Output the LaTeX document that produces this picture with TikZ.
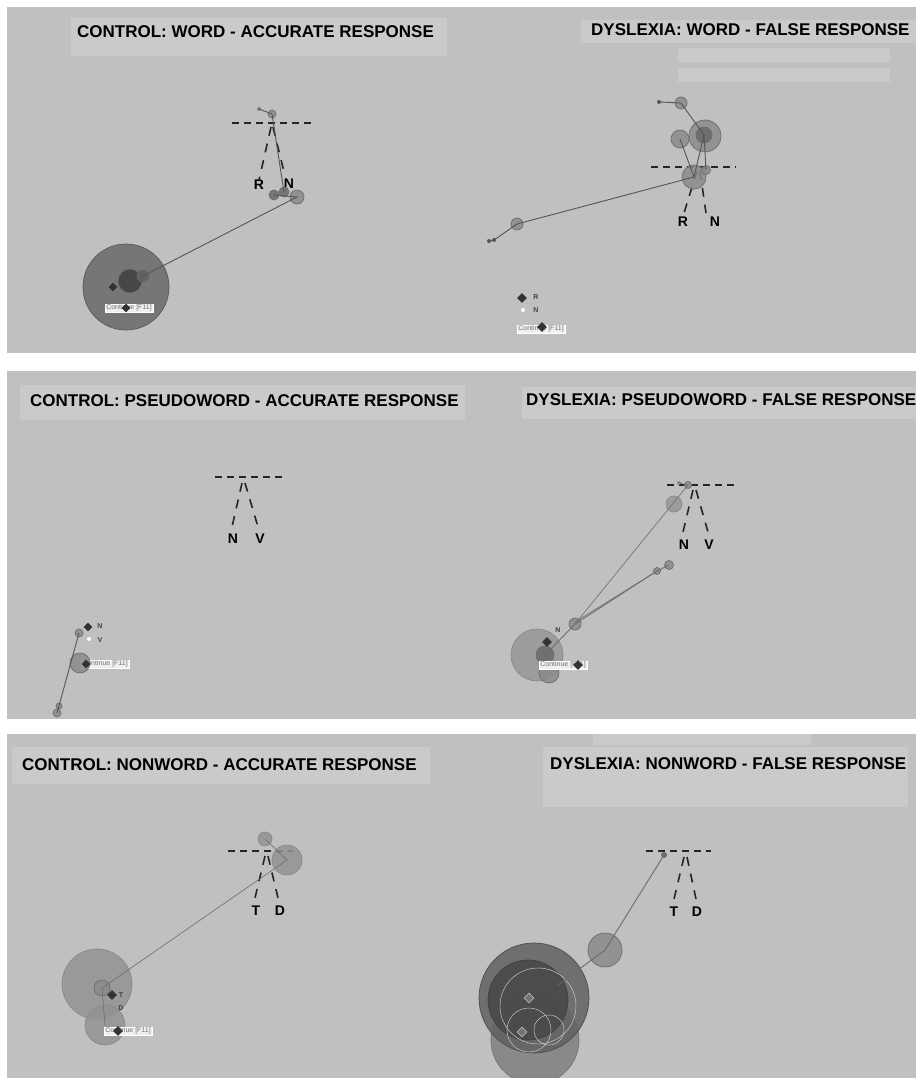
\documentclass[tikz,border=0pt]{standalone}
\usepackage{fontspec}
\setmainfont{Liberation Sans}
\usetikzlibrary{shapes.geometric}
\definecolor{panel}{HTML}{C0C0C0}
\definecolor{titlebox}{HTML}{CACACA}
\definecolor{fixgray}{HTML}{8A8A8A}
\definecolor{fixedge}{HTML}{6C6C6C}
\definecolor{fixdark}{HTML}{6A6A6A}
\definecolor{pathgray}{HTML}{555555}
\tikzset{
  fix/.style={circle, draw=fixedge, fill=fixgray, fill opacity=0.85, line width=0.7pt, inner sep=0pt, minimum size=#1},
  gazedot/.style={circle, fill=pathgray, inner sep=0pt, minimum size=4pt},
  diam/.style={diamond, fill=black!80, inner sep=0pt, minimum size=#1},
  cue/.style={line width=2pt, black!85, dash pattern=on 7pt off 5pt},
  leg/.style={line width=1.6pt, black!85, dash pattern=on 9pt off 8pt},
  paneltitle/.style={font=\fontsize{17}{17}\selectfont\bfseries, inner sep=0pt, anchor=west},
  letter/.style={font=\fontsize{14}{14}\selectfont\bfseries, inner sep=0pt},
  smalltag/.style={font=\fontsize{7}{7}\selectfont\bfseries, text=black!75, inner sep=0pt},
  btn/.style={font=\fontsize{7}{7}\selectfont, text=black!55, fill=white!75!panel, draw=white, inner sep=1pt},
  saccade/.style={draw=pathgray, line width=0.9pt}
}
\begin{document}
\begin{tikzpicture}[x=1pt,y=-1pt]
\useasboundingbox (0,0) rectangle (916,1078);
\fill[white] (0,0) rectangle (916,1078);
\fill[panel] (7,7) rectangle (916,353);
\fill[panel] (7,371) rectangle (916,719);
\fill[panel] (7,734) rectangle (916,1078);
\fill[titlebox] (71,18) rectangle (447,56);
\fill[titlebox] (581,20) rectangle (916,43);
\fill[titlebox] (678,48) rectangle (890,62);
\fill[titlebox] (678,68) rectangle (890,82);
\fill[titlebox] (20,385) rectangle (465,420);
\fill[titlebox] (522,387) rectangle (916,419);
\fill[titlebox] (12,747) rectangle (430,784);
\fill[titlebox] (593,734) rectangle (811,745);
\fill[titlebox] (543,747) rectangle (908,807);
\node[paneltitle] (t1) at (77,32) {CONTROL: WORD - ACCURATE RESPONSE};
\node[paneltitle] (t2) at (591,30) {DYSLEXIA: WORD - FALSE RESPONSE};
\node[paneltitle] (t3) at (30,401) {CONTROL: PSEUDOWORD - ACCURATE RESPONSE};
\node[paneltitle] (t4) at (526,400) {DYSLEXIA: PSEUDOWORD - FALSE RESPONSE};
\node[paneltitle] (t5) at (22,765) {CONTROL: NONWORD - ACCURATE RESPONSE};
\node[paneltitle] (t6) at (550,764) {DYSLEXIA: NONWORD - FALSE RESPONSE};

% control, word
\draw[cue] (232,123) -- (311,123);
\node[letter] (r1) at (259,185) {R};
\node[letter] (n1) at (289,184) {N};
\draw[leg] (271,127) -- (r1.north);
\draw[leg] (273,127) -- (285,176);
\node[fix=86pt, fill=fixdark, draw=black!65] (a5) at (126,287) {};
\node[btn] (k1) at (129,308) {Continue [F11]};
\node[diam=9pt] at (126,308) {};
\node[diam=9pt] at (113,287) {};
\node[fix=24pt, fill=black!72, fill opacity=1] (a6) at (130,281) {};
\node[fix=12pt, fill=black!62, fill opacity=1] (a7) at (143,276) {};
\node[gazedot, fill=black!50] (a0) at (259,109) {};
\node[fix=8pt] (a1) at (272,114) {};
\node[fix=10pt, fill=fixdark] (a2) at (274,195) {};
\node[fix=10pt, fill=fixdark] (a3) at (284,192) {};
\node[fix=14pt] (a4) at (297,197) {};
\draw[saccade] (a0.center) -- (a1.center) -- (a3.center);
\draw[saccade] (a2.center) -- (a4.center) -- (a7.center);

% dyslexia, word
\draw[cue] (651,167) -- (736,167);
\node[letter] (r2) at (683,222) {R};
\node[letter] (n2) at (715,222) {N};
\draw[leg] (697,171) -- (684,213);
\draw[leg] (700,171) -- (706,213);
\node[fix=12pt] (b1) at (681,103) {};
\node[gazedot] (b0) at (659,102) {};
\node[fix=32pt] (b2) at (705,136) {};
\node[fix=16pt, fill=fixdark] (b3) at (704,135) {};
\node[fix=18pt] (b4) at (680,139) {};
\node[fix=24pt] (b5) at (694,177) {};
\node[fix=9pt] (b6) at (706,170) {};
\node[fix=12pt] (b7) at (517,224) {};
\node[gazedot] (b8) at (494,240) {};
\node[gazedot] (b9) at (489,241) {};
\draw[saccade] (b0.center) -- (b1.center) -- (b3.center) -- (b5.center);
\draw[saccade] (b4.center) -- (b5.center);
\draw[saccade] (b3.center) -- (b6.center);
\draw[saccade] (b5.center) -- (b7.center) -- (b8.center) -- (b9.center);
\node[diam=10pt] at (522,298) {};
\node[smalltag] at (536,297) {R};
\node[circle, fill=white, inner sep=0pt, minimum size=4pt] at (523,310) {};
\node[smalltag] at (536,310) {N};
\node[btn] (k2) at (541,329) {Continue [F11]};
\node[diam=10pt] at (542,327) {};

% control, pseudoword
\draw[cue] (215,477) -- (286,477);
\node[letter] (n3) at (233,539) {N};
\node[letter] (v3) at (260,539) {V};
\draw[leg] (242,483) -- (232,527);
\draw[leg] (245,483) -- (258,527);
\node[btn] (k3) at (105,664) {Continue [F11]};
\node[fix=20pt] (c2) at (80,663) {};
\node[diam=9pt] at (86,664) {};
\node[diam=9pt] at (88,627) {};
\node[smalltag] at (100,626) {N};
\node[circle, fill=white, inner sep=0pt, minimum size=4pt] at (89,639) {};
\node[smalltag] at (100,640) {V};
\node[fix=8pt] (c1) at (79,633) {};
\node[fix=6pt] (c3) at (59,706) {};
\node[fix=8pt] (c4) at (57,713) {};
\draw[saccade] (c1.center) -- (c4.center);

% dyslexia, pseudoword
\draw[cue] (667,485) -- (734,485);
\node[letter] (n4) at (684,545) {N};
\node[letter] (v4) at (709,545) {V};
\draw[leg] (693,490) -- (683,532);
\draw[leg] (696,490) -- (708,532);
\node[fix=52pt, fill=fixgray!90!white, draw=fixgray] (d6) at (537,655) {};
\node[fix=18pt, fill=fixdark] (d7) at (545,655) {};
\node[fix=20pt] (d8) at (549,673) {};
\node[btn] (k4) at (563,665) {Continue [F11]};
\node[diam=10pt] at (578,665) {};
\node[diam=10pt] at (547,642) {};
\node[smalltag] at (558,630) {N};
\node[gazedot, fill=fixgray] (d0) at (679,483) {};
\node[fix=7pt] (d1) at (688,485) {};
\node[fix=16pt, fill=fixgray!90!white, draw=fixgray] (d2) at (674,504) {};
\node[fix=9pt] (d3) at (669,565) {};
\node[fix=7pt] (d4) at (657,571) {};
\node[fix=12pt] (d5) at (575,624) {};
\draw[saccade, draw=fixedge, line width=0.6pt] (d0.center) -- (d1.center) -- (d5.center);
\draw[saccade, draw=fixedge] (d3.center) -- (d4.center) -- (d5.center) -- (d7.center);
\draw[saccade, draw=fixedge, line width=0.6pt] (d4.center) -- ([yshift=2pt]d5.center);

% control, nonword
\draw[cue] (228,851) -- (293,851);
\node[letter] (t5l) at (256,911) {T};
\node[letter] (d5l) at (280,911) {D};
\draw[leg] (265,856) -- (255,898);
\draw[leg] (268,856) -- (278,898);
\node[fix=70pt, fill=fixgray!92!white, draw=fixgray] (e3) at (97,984) {};
\node[fix=40pt, fill=fixgray!92!white, draw=fixgray] (e5) at (105,1025) {};
\node[fix=16pt] (e4) at (102,988) {};
\node[btn] (k5) at (128,1031) {Continue [F11]};
\node[diam=10pt] at (118,1031) {};
\node[diam=10pt] at (112,995) {};
\node[smalltag] at (121,995) {T};
\node[smalltag] at (121,1008) {D};
\node[fix=14pt, fill=fixgray!92!white, draw=fixgray] (e1) at (265,839) {};
\node[fix=30pt, fill=fixgray!92!white, draw=fixgray] (e2) at (287,860) {};
\draw[saccade, draw=fixedge, line width=0.6pt] (e1.center) -- (e2.center) -- (e4.center) -- (e5.center);

% dyslexia, nonword
\draw[cue] (646,851) -- (711,851);
\node[letter] (t6l) at (674,912) {T};
\node[letter] (d6l) at (697,912) {D};
\draw[leg] (684,857) -- (674,899);
\draw[leg] (687,857) -- (696,899);
\begin{scope}
\clip (7,734) rectangle (916,1078);
\node[fix=88pt, fill=black!50, draw=black!55] (f4) at (535,1040) {};
\node[fix=110pt, fill=black!62, draw=black!70] (f3) at (534,998) {};
\node[fix=80pt, fill=black!72, draw=black!75] (f5) at (528,1000) {};
\node[circle, draw=white!70!gray, inner sep=0pt, minimum size=76pt] (f6) at (538,1006) {};
\node[circle, draw=white!70!gray, inner sep=0pt, minimum size=44pt] (f7) at (529,1030) {};
\node[circle, draw=white!70!gray, inner sep=0pt, minimum size=30pt] (f8) at (549,1030) {};
\node[diam=10pt, fill=black!55, draw=white!80!gray] at (529,998) {};
\node[diam=10pt, fill=black!55, draw=white!80!gray] at (522,1032) {};
\end{scope}
\node[fix=34pt] (f2) at (605,950) {};
\node[gazedot, fill=fixedge, minimum size=6pt] (f1) at (664,855) {};
\coordinate (f0) at (558,985);
\draw[saccade, draw=fixedge] (f1.center) -- (f2.center) -- (f0);
\end{tikzpicture}
\end{document}
